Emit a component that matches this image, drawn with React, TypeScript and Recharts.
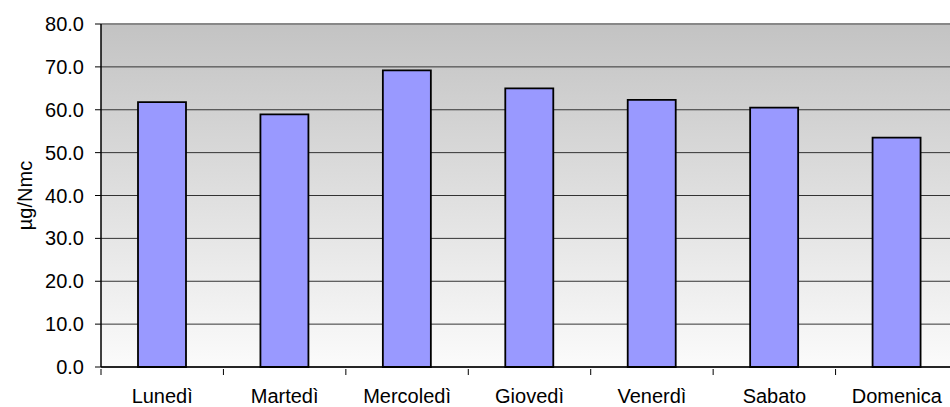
import React from 'react';
import {
  BarChart,
  Bar,
  XAxis,
  YAxis,
  CartesianGrid,
  ReferenceLine,
} from 'recharts';

const days = ['Lunedì', 'Martedì', 'Mercoledì', 'Giovedì', 'Venerdì', 'Sabato', 'Domenica'];
const values = [61.8, 58.9, 69.2, 65.0, 62.3, 60.5, 53.5];
const yTicks = [0, 10, 20, 30, 40, 50, 60, 70, 80];

const data = days.map((day, i) => ({ day, value: values[i] }));

const FONT = '"Liberation Sans", Arial, sans-serif';
const CHART_W = 958;
const CHART_H = 407;
const LEFT = 101;
const BAND = (CHART_W - LEFT) / days.length;

// category label plus a tick mark on the band edges
const DayTick = (props: any) => {
  const { x, y, payload, index } = props;
  const axisY = y - 6;
  return (
    <g>
      <line x1={x - BAND / 2} x2={x - BAND / 2} y1={axisY} y2={axisY + 6} stroke="#000" strokeWidth={1} />
      {index === days.length - 1 ? (
        <line x1={x + BAND / 2} x2={x + BAND / 2} y1={axisY} y2={axisY + 6} stroke="#000" strokeWidth={1} />
      ) : null}
      <text x={x} y={axisY + 34} textAnchor="middle" fontSize={20} fontFamily={FONT} fill="#000">
        {payload.value}
      </text>
    </g>
  );
};

export default function App() {
  return (
    <div style={{ position: 'absolute', left: 0, top: 0, width: 950, height: CHART_H, overflow: 'hidden', background: '#fff' }}>
      <BarChart
        width={CHART_W}
        height={CHART_H}
        data={data}
        margin={{ top: 24, right: 0, bottom: 0, left: 0 }}
        barSize={48}
      >
        <defs>
          <linearGradient id="plotBg" x1="0" y1="0" x2="0" y2="1">
            <stop offset="0%" stopColor="#c3c3c3" />
            <stop offset="100%" stopColor="#fbfbfb" />
          </linearGradient>
        </defs>
        <CartesianGrid vertical={false} stroke="#333" strokeWidth={1} fill="url(#plotBg)" fillOpacity={1} />
        <XAxis
          dataKey="day"
          height={40}
          axisLine={{ stroke: '#000', strokeWidth: 1.5 }}
          tickLine={false}
          tick={<DayTick />}
          interval={0}
        />
        <YAxis
          width={LEFT}
          domain={[0, 80]}
          ticks={yTicks}
          interval={0}
          tickFormatter={(v: number) => v.toFixed(1)}
          axisLine={{ stroke: '#000', strokeWidth: 1.5 }}
          tickLine={{ stroke: '#000' }}
          tickSize={6}
          tickMargin={11}
          tick={{ fontSize: 20, fontFamily: FONT, fill: '#000' }}
          label={{
            value: 'µg/Nmc',
            angle: -90,
            position: 'center',
            dx: -26,
            style: { fontSize: 20, fontFamily: FONT, fill: '#000' },
          }}
        />
        <ReferenceLine y={80} stroke="#888" strokeWidth={2} />
        <Bar dataKey="value" fill="#9999ff" stroke="#000" strokeWidth={1.8} isAnimationActive={false} />
      </BarChart>
    </div>
  );
}
